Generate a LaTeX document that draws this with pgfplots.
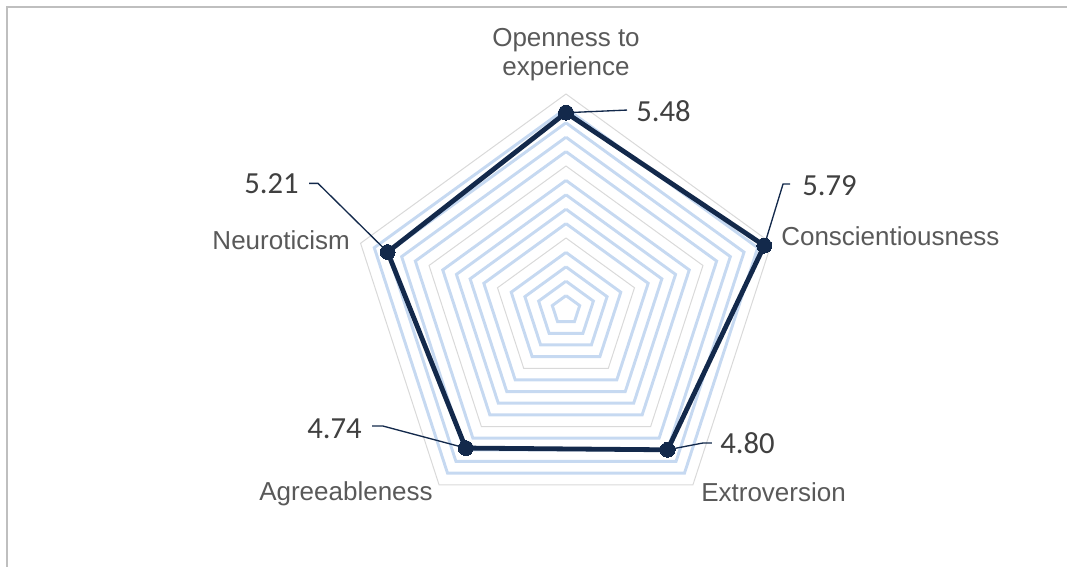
\documentclass[border=0pt]{standalone}
\usepackage{pgfplots}
\pgfplotsset{compat=1.18}
\usepgfplotslibrary{polar}
\usepackage{fontspec}
\setmainfont{Liberation Sans}
\newfontfamily\calibri{Carlito}
\definecolor{navy}{HTML}{13294B}
\definecolor{minorblue}{HTML}{C6D9F1}
\definecolor{majorgray}{HTML}{D9D9D9}
\definecolor{labelgray}{HTML}{595959}
\definecolor{valgray}{HTML}{404040}
\definecolor{framegray}{HTML}{BFBFBF}

% angle (deg), score
\pgfplotstableread{
angle value
90    5.48
18    5.79
-54   4.80
-126  4.74
162   5.21
90    5.48
}\scores

\begin{document}
\begin{tikzpicture}
\begin{scope}[x=0.75pt,y=-0.75pt]
\useasboundingbox (0,0) rectangle (1067,567);
\draw[framegray, line width=1.5pt] (7,567) -- (7,7) -- (1067,7);
\end{scope}
\begin{polaraxis}[at={(424.5pt,-232.5pt)}, anchor=origin,
  scale only axis, width=324pt, height=324pt,
  xmin=0, xmax=360, ymin=0, ymax=6,
  hide axis, clip=false]
% minor gridlines (light blue)
\pgfplotsinvokeforeach{0.4,0.8,1.2,1.6,2.4,2.8,3.2,3.6,4.4,4.8,5.2,5.6}{
  \addplot[minorblue, line width=2.2pt, mark=none]
    coordinates {(90,#1) (18,#1) (-54,#1) (-126,#1) (162,#1) (90,#1)};
}
% major gridlines (gray)
\pgfplotsinvokeforeach{2,4,6}{
  \addplot[majorgray, line width=0.75pt, mark=none]
    coordinates {(90,#1) (18,#1) (-54,#1) (-126,#1) (162,#1) (90,#1)};
}
% leader lines
\draw[navy, line width=1pt] (axis cs:90,5.48) -- ++(45.75pt,2pt);
\draw[navy, line width=1pt] (axis cs:18,5.79) -- ++(14.1pt,46.2pt) -- ++(5.25pt,0pt);
\draw[navy, line width=1pt] (axis cs:-54,4.80) -- ++(26.5pt,5.1pt) -- ++(6.75pt,0pt);
\draw[navy, line width=1pt] (axis cs:-126,4.74) -- ++(-62pt,16.5pt) -- ++(-8.25pt,0pt);
\draw[navy, line width=1pt] (axis cs:162,5.21) -- ++(-52.2pt,51.5pt) -- ++(-6.75pt,0pt);
% data
\addplot[navy, line width=3.6pt, mark=*, mark size=5.6pt,
  mark options={fill=navy, draw=navy, line width=0pt}]
  table[x=angle, y=value] {\scores};
\end{polaraxis}
\begin{scope}[x=0.75pt,y=-0.75pt]
\begin{scope}[every node/.style={inner sep=0pt, text=labelgray, font=\fontsize{19.5}{23}\selectfont}]
\node[anchor=base] at (566,47) {Openness to};
\node[anchor=base] at (566,75) {experience};
\node[anchor=base west] at (781,245) {Conscientiousness};
\node[anchor=base east] at (350,249) {Neuroticism};
\node[anchor=base east] at (433,500) {Agreeableness};
\node[anchor=base west] at (701,501) {Extroversion};
\end{scope}
\begin{scope}[every node/.style={inner sep=0pt, text=valgray, font=\calibri\fontsize{23}{27}\selectfont}]
\node[anchor=base west] at (636,122) {5.48};
\node[anchor=base west] at (802,195) {5.79};
\node[anchor=base west] at (720,453) {4.80};
\node[anchor=base east] at (362,438) {4.74};
\node[anchor=base east] at (299,193) {5.21};
\end{scope}
\end{scope}
\end{tikzpicture}
\end{document}
